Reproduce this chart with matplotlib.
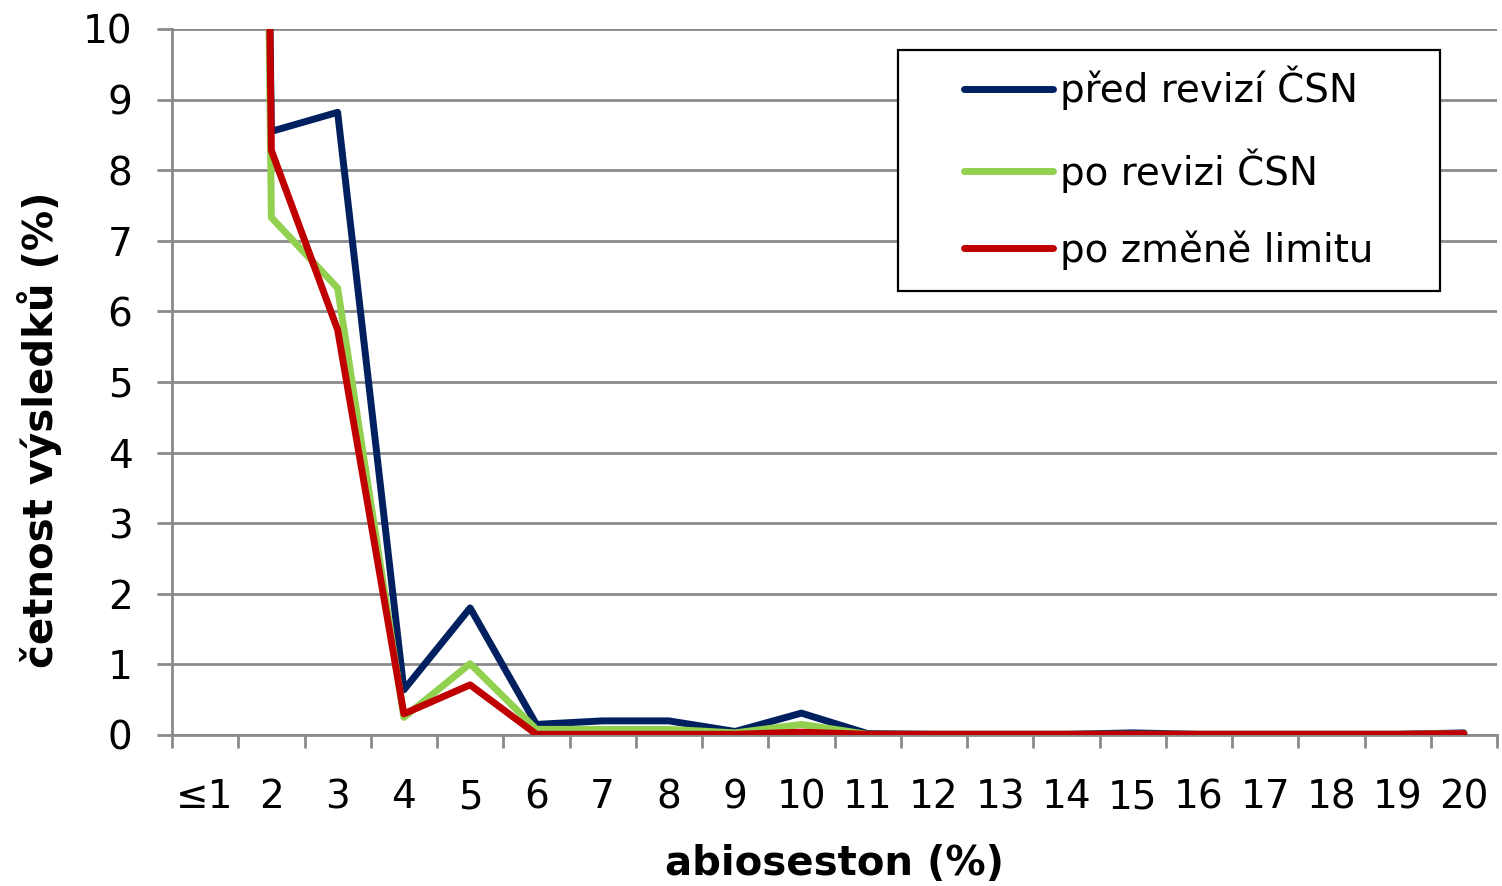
import numpy as np
import matplotlib
matplotlib.use('Agg')
import matplotlib.pyplot as plt
from matplotlib.patches import Rectangle

kategorie = ['≤1', '2', '3', '4', '5', '6', '7', '8', '9', '10',
             '11', '12', '13', '14', '15', '16', '17', '18', '19', '20']

pred_revizi = [79.5, 8.55, 8.82, 0.64, 1.80, 0.15, 0.20, 0.20, 0.05, 0.31,
               0.02, 0.01, 0.01, 0.01, 0.03, 0.01, 0.01, 0.01, 0.01, 0.03]
po_revizi = [82.5, 7.33, 6.33, 0.25, 1.01, 0.08, 0.08, 0.08, 0.03, 0.15,
             0.01, 0.01, 0.01, 0.01, 0.01, 0.01, 0.01, 0.01, 0.01, 0.02]
po_zmene = [84.0, 8.28, 5.74, 0.30, 0.71, 0.01, 0.01, 0.01, 0.01, 0.04,
            0.01, 0.01, 0.01, 0.01, 0.01, 0.01, 0.01, 0.01, 0.01, 0.02]

nazvy = ['před revizí ČSN', 'po revizi ČSN', 'po změně limitu']
barvy = ['#002060', '#92D050', '#C00000']

plt.rcParams['font.family'] = ['DejaVu Sans']

fig = plt.figure(figsize=(15.02, 8.86), dpi=100)
ax = fig.add_axes([172/1502, 1-735/886, (1497-172)/1502, (735-29)/886])

x = np.arange(len(kategorie))
car = []
for data, c in zip([pred_revizi, po_revizi, po_zmene], barvy):
    l, = ax.plot(x, data, color=c, lw=5, solid_joinstyle='round',
                 solid_capstyle='round', zorder=3)
    car.append(l)

ax.set_xlim(-0.5, len(kategorie)-0.5)
ax.set_ylim(0, 10)
ax.set_yticks(np.arange(0, 11, 1))
ax.yaxis.grid(True, color='#8a8a8a', lw=2)
ax.set_axisbelow(True)

seda = '#8a8a8a'
for s in ['top', 'right']:
    ax.spines[s].set_visible(False)
for s in ['left', 'bottom']:
    ax.spines[s].set_color(seda)
    ax.spines[s].set_linewidth(2)

# hranice kategorii jako hlavni ticky, popisky na stredu
ax.set_xticks(np.arange(-0.5, len(kategorie), 1))
ax.set_xticklabels([])
ax.set_xticks(x, minor=True)
ax.set_xticklabels(kategorie, minor=True, fontsize=28)
ax.tick_params(axis='x', which='major', length=9, width=2, color=seda)
ax.tick_params(axis='x', which='minor', length=0, pad=31)
ax.tick_params(axis='y', length=10.5, width=2, color=seda, labelsize=28, pad=18)

ax.set_xlabel('abioseston (%)', fontsize=29, fontweight='bold', labelpad=20)
ax.set_ylabel('četnost výsledků (%)', fontsize=29, fontweight='bold')
ax.yaxis.set_label_coords(-0.083, 0.433)

# ramecek legendy
x0 = (898-172)/1325
y0 = (735-291)/706
ax.add_patch(Rectangle((x0, y0), (1440-898)/1325, (291-50)/706,
                       transform=ax.transAxes, facecolor='white',
                       edgecolor='black', lw=1.6, zorder=4))
leg = ax.legend(car, nazvy, loc='upper left',
                bbox_to_anchor=((964-172)/1325, (735-66)/706),
                frameon=False, fontsize=28, handlelength=2.3,
                handletextpad=0.18, labelspacing=0.97, borderpad=0,
                borderaxespad=0)
leg.set_zorder(5)

fig.savefig('out.png', dpi=100)
